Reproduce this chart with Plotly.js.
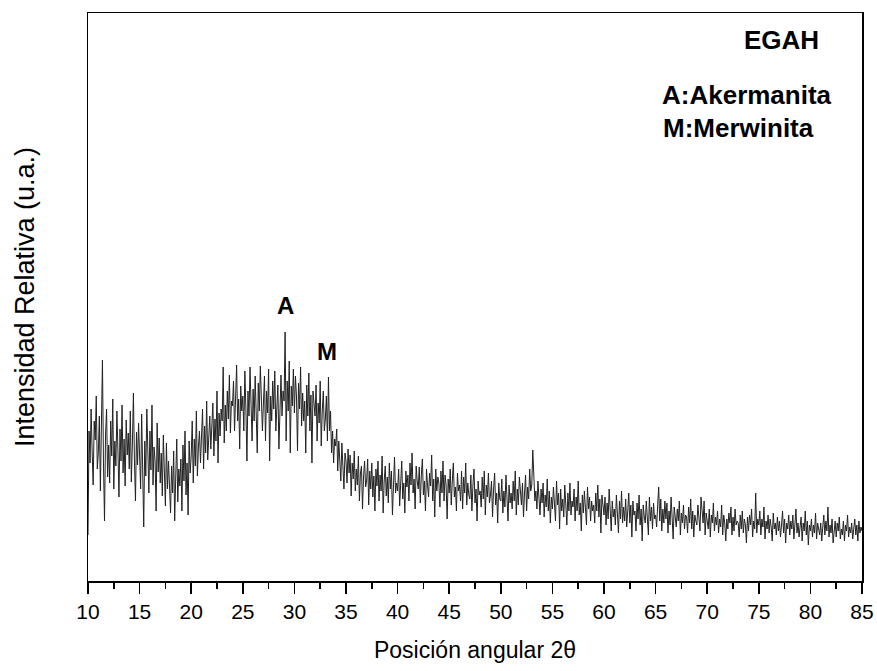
<!DOCTYPE html>
<html>
<head>
<meta charset="utf-8">
<script src="https://cdn.plot.ly/plotly-3.0.1.min.js"></script>
<style>html,body{margin:0;padding:0;background:#fff;}#chart{width:877px;height:671px;}</style>
</head>
<body>
<div id="chart"></div>
<script>
// 2θ start and step (degrees)
var twoThetaStart = 10.0;
var twoThetaStep = 0.1;
// Relative intensity (a.u.), one row per degree (10.0 ... 85.0)
var intensity = [
  46,150,118,172,130,96,160,141,185,112,
  128,165,90,150,221,118,60,146,172,104,
  136,98,160,125,182,92,140,115,170,131,
  84,152,120,176,108,142,95,161,126,148,
  112,170,99,137,188,121,80,149,116,158,
  130,92,167,118,54,140,105,172,126,88,
  150,111,176,96,134,120,70,158,109,143,
  98,128,85,146,110,75,138,92,120,100,
  68,115,88,130,60,104,142,79,112,95,
  122,70,136,100,150,86,118,66,140,108,
  125,160,98,142,115,170,105,134,150,118,
  140,172,112,155,128,180,121,146,165,132,
  150,178,125,162,140,190,118,168,145,172,
  160,214,138,176,150,190,162,206,148,180,
  175,200,150,188,216,160,182,132,195,170,
  185,150,210,172,120,190,165,214,178,140,
  192,160,205,176,128,198,170,215,182,150,
  178,205,140,190,168,212,120,185,160,200,
  172,210,150,186,196,132,178,206,165,190,
  180,249,140,200,170,220,128,195,175,212,
  168,205,185,130,198,172,214,155,188,160,
  180,128,196,165,208,150,186,118,190,172,
  165,196,140,178,158,200,135,170,190,150,
  162,185,140,204,150,170,128,150,118,142,
  135,152,110,140,125,100,138,118,92,128,
  120,98,132,108,126,85,118,102,130,90,
  112,96,125,80,108,115,72,104,120,94,
  100,122,76,110,92,118,84,105,70,112,
  95,120,80,106,90,125,68,100,115,85,
  104,78,118,92,110,66,100,124,88,98,
  90,112,75,104,120,82,98,68,110,94,
  106,80,118,96,128,88,102,72,115,100,
  92,114,78,106,122,86,100,70,112,96,
  84,108,95,126,80,102,64,112,90,104,
  98,74,110,88,120,80,106,96,62,102,
  88,112,76,100,118,84,94,70,108,90,
  96,80,110,72,104,88,118,76,98,86,
  82,106,70,96,112,78,92,60,100,86,
  90,74,104,82,110,66,96,84,108,78,
  86,100,64,92,108,76,88,58,98,82,
  80,102,68,90,74,106,84,60,96,78,
  88,72,100,80,110,66,92,76,104,84,
  76,98,64,88,106,70,94,82,112,90,
  96,131,108,80,90,72,100,84,66,92,
  78,98,64,86,74,102,70,90,58,84,
  72,94,80,60,100,76,88,52,92,70,
  82,64,96,74,56,88,70,98,66,80,
  74,92,60,84,70,100,66,78,50,86,
  68,90,76,56,94,72,84,60,80,70,
  76,58,88,70,96,64,82,48,86,72,
  66,84,56,78,62,92,70,50,80,64,
  72,56,86,66,48,80,62,90,58,74,
  60,82,54,70,88,58,76,44,80,66,
  70,50,78,62,86,56,72,40,76,64,
  58,80,64,46,84,60,74,52,78,62,
  66,54,76,94,60,82,50,72,58,80,
  62,78,48,70,56,84,64,42,74,60,
  54,72,60,80,46,68,58,76,52,66,
  64,48,74,58,82,52,70,44,66,60,
  56,76,62,50,84,70,58,80,46,68,
  60,52,72,44,66,58,78,50,64,56,
  70,48,62,54,76,46,66,58,40,62,
  52,68,58,74,46,64,50,72,56,60,
  58,44,66,52,70,48,62,56,38,64,
  50,66,56,72,44,60,52,88,48,62,
  56,70,46,62,54,74,42,60,52,66,
  48,62,54,40,68,52,58,46,64,50,
  60,44,56,70,48,62,38,58,52,66,
  46,60,52,66,42,56,72,48,58,44,
  54,64,40,58,50,70,46,60,36,56,
  50,62,44,56,48,68,42,58,52,46,
  58,40,54,66,46,60,50,74,44,56,
  48,62,38,54,60,44,58,50,64,42,
  52,46,60,40,56,50,66,44,54,48,
  58,42,52,62,46,56,40,60,48,54,
  50
];
var xTickVals = [10,15,20,25,30,35,40,45,50,55,60,65,70,75,80,85];
var peakLabels = ["A", "M"];
var peakX = [29.14, 33.16];
var peakY = [276, 230];
var sampleName = "EGAH";
var legendLines = ["A:Akermanita", "M:Merwinita"];

var twoTheta = intensity.map(function(v, i){ return +(twoThetaStart + i*twoThetaStep).toFixed(2); });

var font = "Liberation Sans, Arial, Helvetica, sans-serif";

var annotations = [];
peakLabels.forEach(function(t, i){
  annotations.push({x: peakX[i], y: peakY[i], xref: 'x', yref: 'y', text: '<b>'+t+'</b>',
    showarrow: false, font: {family: font, size: 24, color: '#000'}});
});
annotations.push({x: 0.8966, y: 0.9516, xref: 'paper', yref: 'paper', text: '<b>'+sampleName+'</b>',
  showarrow: false, xanchor: 'center', yanchor: 'middle', font: {family: font, size: 26, color: '#000'}});
annotations.push({x: 0.7390, y: 0.8556, xref: 'paper', yref: 'paper', text: '<b>'+legendLines[0]+'</b>',
  showarrow: false, xanchor: 'left', yanchor: 'middle', font: {family: font, size: 26, color: '#000'}});
annotations.push({x: 0.7400, y: 0.7975, xref: 'paper', yref: 'paper', text: '<b>'+legendLines[1]+'</b>',
  showarrow: false, xanchor: 'left', yanchor: 'middle', font: {family: font, size: 26, color: '#000'}});

var trace = {
  x: twoTheta, y: intensity, type: 'scatter', mode: 'lines',
  line: {color: '#222', width: 1}, hoverinfo: 'skip'
};

var layout = {
  width: 877, height: 671,
  margin: {l: 88, r: 15, t: 13, b: 90},
  paper_bgcolor: '#fff', plot_bgcolor: '#fff',
  showlegend: false,
  font: {family: font, color: '#000'},
  xaxis: {
    range: [10, 85], tickvals: xTickVals, ticktext: xTickVals.map(String),
    ticks: 'outside', ticklen: 11, tickwidth: 1.5, tickcolor: '#000',
    minor: {dtick: 2.5, tick0: 10, ticks: 'outside', ticklen: 6, tickwidth: 1.5, tickcolor: '#000'},
    showline: true, linecolor: '#000', linewidth: 1.5, mirror: true,
    showgrid: false, zeroline: false,
    tickfont: {family: font, size: 21, color: '#000'},
    title: {text: 'Posición angular 2θ', font: {family: font, size: 23, color: '#000'}, standoff: 20}
  },
  yaxis: {
    range: [0, 568], showticklabels: false, ticks: '',
    showline: true, linecolor: '#000', linewidth: 1.5, mirror: true,
    showgrid: false, zeroline: false,
    title: {text: 'Intensidad Relativa (u.a.)', font: {family: font, size: 27, color: '#000'}, standoff: 44}
  },
  annotations: annotations
};

Plotly.newPlot('chart', [trace], layout, {displayModeBar: false, staticPlot: true});
</script>
</body>
</html>
